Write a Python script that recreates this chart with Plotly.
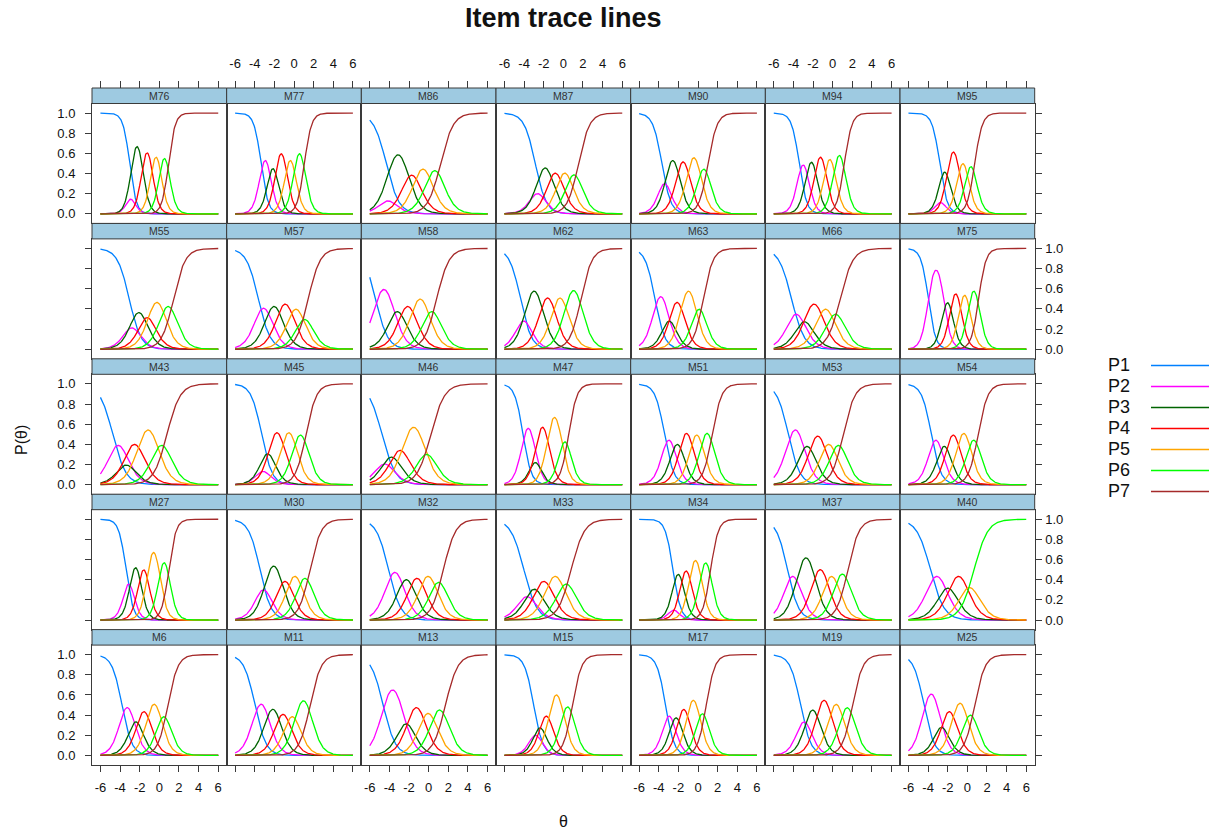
import numpy as np
import plotly.graph_objects as go

# ---------------- data ----------------
items = ["M76", "M77", "M86", "M87", "M90", "M94", "M95",
         "M55", "M57", "M58", "M62", "M63", "M66", "M75",
         "M43", "M45", "M46", "M47", "M51", "M53", "M54",
         "M27", "M30", "M32", "M33", "M34", "M37", "M40",
         "M6", "M11", "M13", "M15", "M17", "M19", "M25"]

# theta where P1 crosses 0.5 (rough reading)
p1_half = [-3.24, -3.21, -4.25, -3.0, -3.72, -3.34, -2.85,
           -3.27, -3.51, -5.2, -4.53, -4.39, -4.02, -3.95,
           -4.87, -3.28, -4.80, -4.19, -3.54, -4.35, -3.61,
           -3.43, -3.28, -3.89, -4.19, -2.89, -4.35, -3.79,
           -3.66, -3.8, -4.40, -3.18, -3.20, -3.1, -4.29]

# theta of the peak of each middle category (P2 ... P(K-1))
peak_theta = [
    [-2.94, -2.22, -1.27, -0.29, 0.49],
    [-2.94, -2.16, -1.31, -0.32, 0.53],
    [-4.16, -3.11, -1.75, -0.59, 0.63],
    [-2.66, -1.75, -0.90, 0.15, 1.10],
    [-3.38, -2.60, -1.51, -0.42, 0.59],
    [-3.00, -2.16, -1.24, -0.36, 0.73],
    [-2.77, -2.26, -1.41, -0.46, 0.36],
    [-2.79, -2.05, -1.31, -0.22, 0.90],
    [-3.11, -2.02, -0.90, 0.12, 1.14],
    [-4.57, -3.21, -2.12, -0.93, 0.36],
    [-4.02, -3.00, -1.58, -0.35, 1.04],
    [-3.81, -2.87, -2.19, -0.97, 0.12],
    [-3.75, -2.84, -1.92, -0.76, 0.32],
    [-3.20, -2.02, -1.17, -0.25, 0.63],
    [-4.19, -3.34, -2.56, -1.14, 0.22],
    [-3.21, -2.67, -1.68, -0.53, 0.63],
    [-4.57, -3.72, -2.87, -1.51, -0.25],
    [-3.57, -2.83, -2.16, -0.87, 0.15],
    [-2.94, -2.12, -1.17, -0.15, 0.93],
    [-3.79, -2.60, -1.58, -0.46, 0.66],
    [-3.20, -2.36, -1.48, -0.32, 0.63],
    [-3.09, -2.42, -1.64, -0.56, 0.49],
    [-3.11, -2.09, -0.90, 0.05, 1.14],
    [-3.45, -2.26, -1.24, -0.08, 1.04],
    [-3.85, -2.83, -1.88, -0.87, 0.25],
    [-2.46, -2.02, -1.17, -0.25, 0.76],
    [-4.12, -2.66, -1.31, -0.12, 1.00],
    [-3.10, -2.02, -0.90, 0.22],
    [-3.28, -2.39, -1.58, -0.56, 0.49],
    [-3.35, -2.16, -1.17, -0.15, 0.97],
    [-3.65, -2.36, -1.24, -0.08, 1.14],
    [-2.83, -2.32, -1.75, -0.80, 0.49],
    [-2.94, -2.26, -1.44, -0.49, 0.46],
    [-2.90, -2.05, -0.90, 0.32, 1.51],
    [-3.72, -2.60, -1.85, -0.73, 0.29],
]

# peak height of each middle category
peak_height = [
    [0.145, 0.667, 0.606, 0.562, 0.549],
    [0.529, 0.448, 0.596, 0.529, 0.596],
    [0.128, 0.586, 0.384, 0.444, 0.428],
    [0.200, 0.455, 0.404, 0.404, 0.387],
    [0.300, 0.529, 0.515, 0.556, 0.444],
    [0.485, 0.512, 0.562, 0.539, 0.579],
    [0.111, 0.414, 0.613, 0.498, 0.468],
    [0.212, 0.364, 0.313, 0.465, 0.424],
    [0.407, 0.424, 0.448, 0.397, 0.296],
    [0.593, 0.374, 0.424, 0.498, 0.374],
    [0.280, 0.576, 0.508, 0.508, 0.582],
    [0.522, 0.279, 0.465, 0.576, 0.397],
    [0.347, 0.273, 0.448, 0.397, 0.347],
    [0.785, 0.461, 0.549, 0.535, 0.576],
    [0.390, 0.195, 0.400, 0.542, 0.390],
    [0.131, 0.306, 0.515, 0.515, 0.492],
    [0.205, 0.273, 0.340, 0.569, 0.300],
    [0.559, 0.219, 0.569, 0.667, 0.424],
    [0.441, 0.400, 0.508, 0.492, 0.508],
    [0.542, 0.380, 0.481, 0.400, 0.390],
    [0.441, 0.380, 0.492, 0.508, 0.441],
    [0.357, 0.519, 0.498, 0.670, 0.569],
    [0.300, 0.535, 0.384, 0.434, 0.414],
    [0.473, 0.400, 0.414, 0.434, 0.374],
    [0.232, 0.306, 0.384, 0.434, 0.357],
    [0.098, 0.453, 0.487, 0.591, 0.567],
    [0.433, 0.617, 0.500, 0.433, 0.456],
    [0.433, 0.316, 0.433, 0.323],
    [0.475, 0.333, 0.434, 0.508, 0.384],
    [0.508, 0.458, 0.408, 0.384, 0.542],
    [0.650, 0.313, 0.475, 0.417, 0.451],
    [0.200, 0.273, 0.390, 0.600, 0.482],
    [0.390, 0.373, 0.456, 0.547, 0.413],
    [0.333, 0.450, 0.547, 0.507, 0.473],
    [0.609, 0.279, 0.434, 0.518, 0.400],
]

cat_names = ["P1", "P2", "P3", "P4", "P5", "P6", "P7"]
cat_colors = ["#0080ff", "#ff00ff", "#006400", "#ff0000", "#ffa500", "#00ff00", "#a52a2a"]
x_ticks = [-6, -4, -2, 0, 2, 4, 6]
x_tick_text = ["-6", "-4", "-2", "0", "2", "4", "6"]
y_ticks = [0.0, 0.2, 0.4, 0.6, 0.8, 1.0]
y_tick_text = ["0.0", "0.2", "0.4", "0.6", "0.8", "1.0"]

theta = np.linspace(-6, 6, 241)


def grm_fit(b1_obs, m, h, w_b1=0.3):
    """Graded-response model: slope + thresholds matching the read peaks."""
    m = np.asarray(m, float)
    h = np.asarray(h, float)
    wid = 4 * np.arctanh(h)                 # a * (b_k - b_{k-1})
    bounds = np.concatenate([[0.0], np.cumsum(wid)])
    mids = bounds[:-1] + wid / 2
    A = np.vstack([np.column_stack([np.ones_like(mids), mids]), [w_b1, 0.0]])
    y = np.concatenate([m, [w_b1 * b1_obs]])
    (b1, u), *_ = np.linalg.lstsq(A, y, rcond=None)
    return 1.0 / u, b1 + bounds * u


def grm_probs(a, b, th):
    ps = 1 / (1 + np.exp(-a * (th[None, :] - b[:, None])))
    K = len(b) + 1
    P = np.empty((K, th.size))
    P[0] = 1 - ps[0]
    for k in range(1, K - 1):
        P[k] = ps[k - 1] - ps[k]
    P[K - 1] = ps[-1]
    return P


# ---------------- layout geometry (page pixels) ----------------
W, H = 1215, 834
LEFT, COLW = 92.0, 134.67
TOP, ROWH, STRIP = 88.0, 135.4, 15.5
NC, NR = 7, 5
XR = [-6.86, 6.86]
YR = [-0.095, 1.095]
FONT = "Liberation Sans, Arial, sans-serif"
LINEC = "#3a3a3a"
TICKFONT = dict(size=13, family=FONT, color="#111111")


def px(x):
    return x / W


def py(y):
    return 1 - y / H


fig = go.Figure()
layout = dict(width=W, height=H,
              margin=dict(l=0, r=0, t=0, b=0, autoexpand=False),
              paper_bgcolor="white", plot_bgcolor="white",
              font=dict(family=FONT, size=12, color="#111111"))
shapes, annotations = [], []

for i, name in enumerate(items):
    r, c = divmod(i, NC)
    n = i + 1
    xs = "" if n == 1 else str(n)
    x0 = LEFT + c * COLW
    x1 = x0 + COLW
    rt = TOP + r * ROWH
    bt = rt + STRIP
    bb = rt + ROWH
    bottom_row = r == NR - 1
    left_col = c == 0
    layout["xaxis" + xs] = dict(
        domain=[px(x0), px(x1)], anchor="y" + xs, range=XR,
        showgrid=False, zeroline=False, showline=True, mirror=True,
        linecolor=LINEC, linewidth=1,
        ticks="outside" if bottom_row else "", ticklen=6, tickcolor=LINEC,
        tickvals=x_ticks, ticktext=x_tick_text, ticklabelstandoff=4,
        showticklabels=bottom_row and c % 2 == 0, tickfont=TICKFONT)
    layout["yaxis" + xs] = dict(
        domain=[py(bb), py(bt)], anchor="x" + xs, range=YR,
        showgrid=False, zeroline=False, showline=True, mirror=True,
        linecolor=LINEC, linewidth=1,
        ticks="outside" if left_col else "", ticklen=6, tickcolor=LINEC,
        tickvals=y_ticks, ticktext=y_tick_text, ticklabelstandoff=7,
        showticklabels=left_col and r % 2 == 0, tickfont=TICKFONT)
    # strip
    shapes.append(dict(type="rect", xref="paper", yref="paper",
                       x0=px(x0), x1=px(x1), y0=py(bt), y1=py(rt),
                       fillcolor="#9ecae1", line=dict(color=LINEC, width=1),
                       layer="above"))
    annotations.append(dict(text=name, x=px((x0 + x1) / 2), y=py((rt + bt) / 2),
                            xref="paper", yref="paper", showarrow=False,
                            font=dict(size=10.5, family=FONT, color="#333333"),
                            xanchor="center", yanchor="middle"))
    # curves
    a, b = grm_fit(p1_half[i], peak_theta[i], peak_height[i])
    P = grm_probs(a, b, theta)
    for k in range(P.shape[0]):
        in_legend = (i == 0)
        fig.add_trace(go.Scatter(
            x=theta, y=P[k], mode="lines", xaxis="x" + xs, yaxis="y" + xs,
            line=dict(color=cat_colors[k], width=1.3),
            # legend rows carry no text: labels are drawn left of the lines
            name="" if in_legend else cat_names[k],
            legendgroup=cat_names[k],
            showlegend=in_legend, hoverinfo="skip"))

# outer alternating axes: top (at strip top) and right side
for c in range(NC):
    n = 36 + c
    layout["xaxis%d" % n] = dict(
        overlaying="x" if c == 0 else "x%d" % (c + 1), side="top",
        anchor="free", position=py(TOP), range=XR,
        showgrid=False, zeroline=False, showline=False,
        ticks="outside", ticklen=7, tickcolor=LINEC,
        tickvals=x_ticks, ticktext=x_tick_text, ticklabelstandoff=8,
        showticklabels=(c % 2 == 1), tickfont=TICKFONT)
    fig.add_trace(go.Scatter(x=[0], y=[0.5], mode="markers",
                             marker=dict(size=1, opacity=0),
                             xaxis="x%d" % n, yaxis="y" if c == 0 else "y%d" % (c + 1),
                             showlegend=False, hoverinfo="skip"))
for r in range(NR):
    n = 36 + r
    pn = r * NC + NC
    layout["yaxis%d" % n] = dict(
        overlaying="y%d" % pn, side="right", anchor="x%d" % pn, range=YR,
        showgrid=False, zeroline=False, showline=False,
        ticks="outside", ticklen=6, tickcolor=LINEC,
        tickvals=y_ticks, ticktext=y_tick_text, ticklabelstandoff=1,
        showticklabels=(r % 2 == 1), tickfont=TICKFONT)
    fig.add_trace(go.Scatter(x=[0], y=[0.5], mode="markers",
                             marker=dict(size=1, opacity=0),
                             xaxis="x%d" % pn, yaxis="y%d" % n,
                             showlegend=False, hoverinfo="skip"))

# titles
annotations.append(dict(text="<b>Item trace lines</b>", x=px(563), y=py(18),
                        xref="paper", yref="paper", showarrow=False,
                        font=dict(size=27, family=FONT, color="#111111"),
                        xanchor="center", yanchor="middle"))
annotations.append(dict(text="P(θ)", x=px(21), y=py(440), textangle=-90,
                        xref="paper", yref="paper", showarrow=False,
                        font=dict(size=16, family=FONT, color="#111111"),
                        xanchor="center", yanchor="middle"))
annotations.append(dict(text="θ", x=px(563), y=py(821),
                        xref="paper", yref="paper", showarrow=False,
                        font=dict(size=16, family=FONT, color="#111111"),
                        xanchor="center", yanchor="middle"))
# legend labels (text left of the line samples)
for k, nm in enumerate(cat_names):
    annotations.append(dict(text=nm, x=px(1106), y=py(365 + 21 * k),
                            xref="paper", yref="paper", showarrow=False,
                            font=dict(size=18, family=FONT, color="#111111"),
                            xanchor="left", yanchor="middle"))

layout["shapes"] = shapes
layout["annotations"] = annotations
layout["showlegend"] = True
layout["legend"] = dict(x=px(1146), y=py(351), xanchor="left", yanchor="top",
                        font=dict(size=12, family=FONT, color="#111111"),
                        bgcolor="rgba(0,0,0,0)", itemwidth=58,
                        tracegroupgap=2)
fig.update_layout(**layout)
# the figure fills the whole 1215x834 page: drop the browser's default body margin
fig.write_html("out.html",
               config={"displayModeBar": False},
               post_script="document.body.style.margin='0px';"
                           "document.documentElement.style.overflow='hidden';")
